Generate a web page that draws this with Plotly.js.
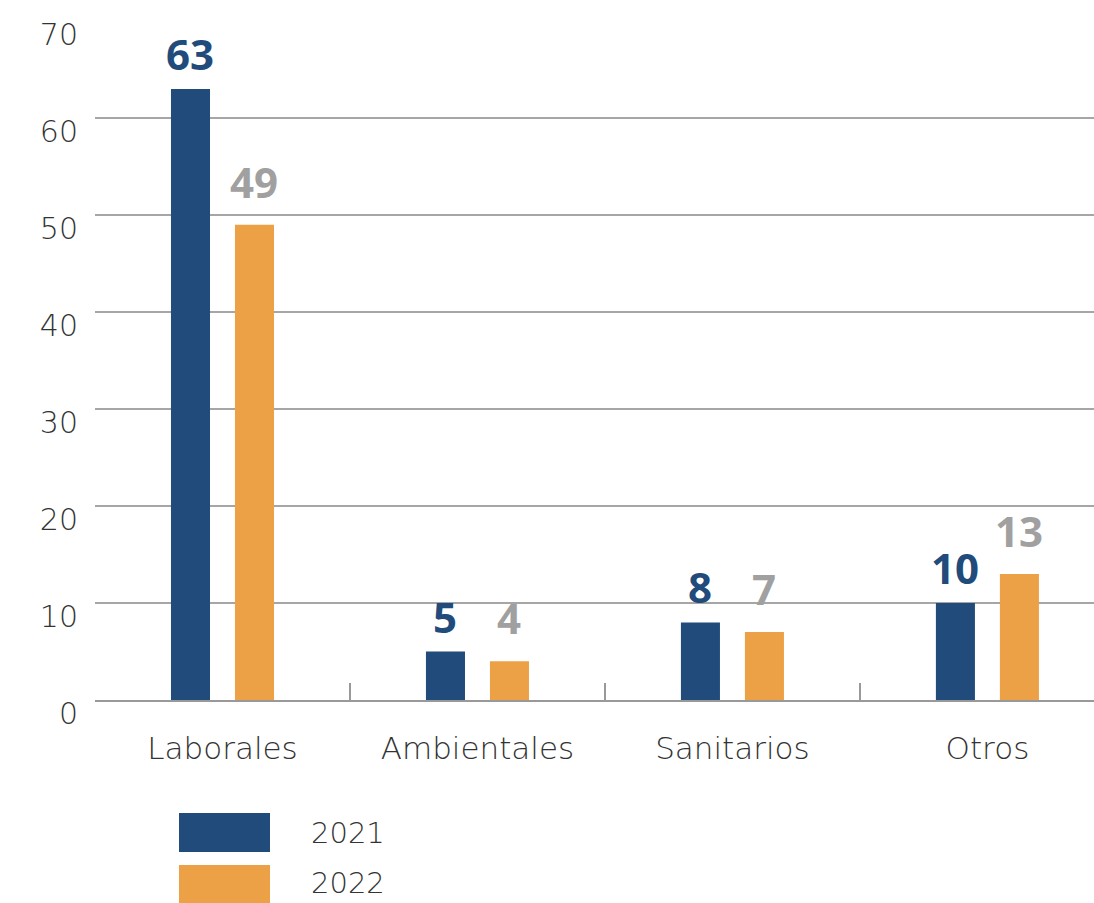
<!DOCTYPE html>
<html><head><meta charset="utf-8">
<script src="https://cdn.plot.ly/plotly-3.0.1.min.js"></script>
<style>body{margin:0;padding:0;background:#fff}#chart{width:1094px;height:903px}</style>
</head><body><div id="chart"></div>
<script>
const categories = ["Laborales", "Ambientales", "Sanitarios", "Otros"];
const series2021 = [63, 5, 8, 10];
const series2022 = [49, 4, 7, 13];
const seriesNames = ["2021", "2022"];
const yTicks = [0, 10, 20, 30, 40, 50, 60, 70];

const colors = ["#204b7b", "#eda146"];
const labelColors = ["#204b7b", "#a0a0a0"];
const FONT = "'DejaVu Sans', sans-serif";
const BOLD = "'Open Sans', sans-serif";

const traces = [series2021, series2022].map((vals, i) => ({
  type: "bar", name: seriesNames[i], x: categories, y: vals,
  marker: {color: colors[i]}, showlegend: false, hoverinfo: "x+y"
}));

const annotations = [];
[series2021, series2022].forEach((vals, i) => {
  vals.forEach((v, j) => {
    annotations.push({
      x: categories[j], y: v, xref: "x", yref: "y",
      text: String(v), showarrow: false, yanchor: "bottom",
      xshift: i === 0 ? -32 : 32, yshift: i === 0 ? 5 : 13,
      font: {family: BOLD, size: 42, color: labelColors[i], weight: 700}
    });
  });
});

const shapes = [];
seriesNames.forEach((n, i) => {
  shapes.push({type: "rect", xref: "paper", yref: "paper", layer: "above",
    x0: (179 - 95) / 999, x1: (270 - 95) / 999,
    y0: (700 - (852 + i * 52)) / 679, y1: (700 - (813 + i * 52)) / 679,
    fillcolor: colors[i], line: {width: 0}});
  annotations.push({xref: "paper", yref: "paper", x: (348 - 95) / 999,
    y: (700 - (833 + i * 50)) / 679, xanchor: "center", yanchor: "middle",
    showarrow: false, text: n, height: 34,
    font: {family: FONT, size: 29, color: "#333333", weight: 200}});
});

const layout = {
  width: 1094, height: 903,
  margin: {l: 95, r: 0, t: 21, b: 203},
  paper_bgcolor: "#ffffff", plot_bgcolor: "#ffffff",
  barmode: "group", bargap: 0.498, bargroupgap: 0.39,
  font: {family: FONT, color: "#333333"},
  xaxis: {
    type: "category", range: [-0.5, 3.418], tickson: "boundaries",
    ticks: "inside", ticklen: 17, tickwidth: 1.5, tickcolor: "#999999",
    showline: true, linecolor: "#999999", linewidth: 1.5,
    showgrid: false, tickfont: {family: FONT, size: 31, color: "#333333", weight: 200},
    ticklabelstandoff: 20
  },
  yaxis: {
    range: [0, 70], tickvals: yTicks, ticktext: yTicks.map(String),
    showgrid: true, gridcolor: "#a6a6a6", gridwidth: 1.5,
    zeroline: false, showline: false, ticks: "",
    tickfont: {family: FONT, size: 30, color: "#333333", weight: 200},
    ticklabelshift: 13, ticklabelstandoff: 16
  },
  shapes: shapes, annotations: annotations, showlegend: false
};

Plotly.newPlot("chart", traces, layout, {displayModeBar: false, staticPlot: true});
</script></body></html>
